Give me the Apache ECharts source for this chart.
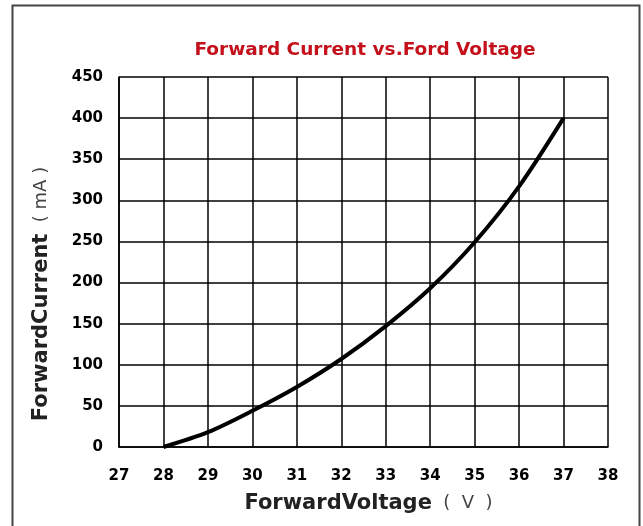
<!DOCTYPE html>
<html><head><meta charset="utf-8">
<script src="https://cdn.jsdelivr.net/npm/echarts@6/dist/echarts.min.js"></script>
<style>html,body{margin:0;padding:0;background:#fff}#c{width:643px;height:526px}</style>
</head><body><div id="c"></div>
<script>
const title = 'Forward Current vs.Ford Voltage';
const xNameMain = 'ForwardVoltage', xNameUnit = '  (  V  )';
const yNameMain = 'ForwardCurrent', yNameUnit = '  ( mA )';
const voltage = [28, 29, 30, 31, 32, 33, 34, 35, 36, 37];
const current = [0, 18, 44, 73, 107, 147, 193, 249, 317, 400];
const xMin = 27, xMax = 38, xStep = 1;
const yMin = 0, yMax = 450, yStep = 50;

const chart = echarts.init(document.getElementById('c'));
const tickFont = {color:'#000', fontFamily:'"DejaVu Sans",sans-serif', fontWeight:'bold', fontSize:15};
const nameRich = {
  b:{color:'#222', fontFamily:'"DejaVu Sans",sans-serif', fontWeight:'bold', fontSize:21},
  n:{color:'#444', fontFamily:'"DejaVu Sans",sans-serif', fontWeight:'normal', fontSize:18}
};
chart.setOption({
  animation:false,
  backgroundColor:'#fff',
  graphic:[{type:'rect', shape:{x:12.5,y:5.5,width:627,height:530}, style:{fill:'none', stroke:'#444', lineWidth:2}}],
  title:{text:title, left:360, top:36, textAlign:'center',
    textStyle:{color:'#c3101a', fontFamily:'"DejaVu Sans",sans-serif', fontWeight:'bold', fontSize:18.5}},
  grid:{left:119, right:35, top:77, bottom:79},
  xAxis:{type:'value', min:xMin, max:xMax, interval:xStep,
    name:'{b|' + xNameMain + '}{n|' + xNameUnit + '}', nameLocation:'middle', nameGap:46,
    nameTextStyle:{rich:nameRich, padding:[0,0,0,10]},
    axisLine:{lineStyle:{color:'#000', width:1.5}}, axisTick:{show:false},
    axisLabel:Object.assign({margin:22}, tickFont),
    splitLine:{show:true, lineStyle:{color:'#000', width:1.5}}},
  yAxis:{type:'value', min:yMin, max:yMax, interval:yStep,
    name:'{b|' + yNameMain + '}{n|' + yNameUnit + '}', nameLocation:'middle', nameGap:67,
    nameTextStyle:{rich:nameRich, padding:[0,64,0,0]},
    axisLine:{show:true, lineStyle:{color:'#000', width:1.5}}, axisTick:{show:false},
    axisLabel:Object.assign({margin:16}, tickFont),
    splitLine:{show:true, lineStyle:{color:'#000', width:1.5}}},
  series:[{type:'line', data:voltage.map((v,i)=>[v,current[i]]), smooth:0.3, symbol:'none',
    lineStyle:{color:'#000', width:4}}]
});
</script></body></html>
